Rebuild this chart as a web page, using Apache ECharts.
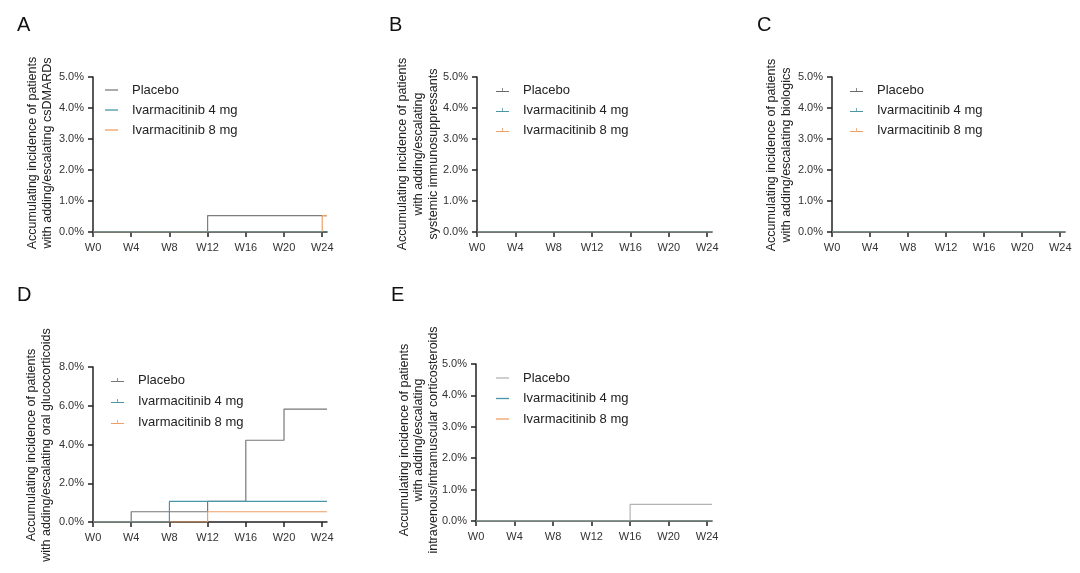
<!DOCTYPE html>
<html>
<head>
<meta charset="utf-8">
<script src="https://cdn.jsdelivr.net/npm/echarts@6/dist/echarts.min.js"></script>
<style>
html,body{margin:0;padding:0;background:#fff;}
#chart{width:1080px;height:573px;}
</style>
</head>
<body>
<div id="chart"></div>
<script>
// ---------- data ----------
const tickWeeks = [0, 4, 8, 12, 16, 20, 24];
const tickLabels = ['W0', 'W4', 'W8', 'W12', 'W16', 'W20', 'W24'];
const seriesNames = ['Placebo', 'Ivarmacitinib 4 mg', 'Ivarmacitinib 8 mg'];
const panelLetters = ['A', 'B', 'C', 'D', 'E'];
const panelTitles = [
  'Accumulating incidence of patients\nwith adding/escalating csDMARDs',
  'Accumulating incidence of patients\nwith adding/escalating\nsystemic immunosuppressants',
  'Accumulating incidence of patients\nwith adding/escalating biologics',
  'Accumulating incidence of patients\nwith adding/escalating oral glucocorticoids',
  'Accumulating incidence of patients\nwith adding/escalating\nintravenous/intramuscular corticosteroids'
];
const yMaxes = [5, 5, 5, 8, 5];
const yIntervals = [1, 1, 1, 2, 1];

// step data: weeks (x) and accumulated incidence in % (y)
const A_placebo_w = [0, 12, 24.5];  const A_placebo_v = [0, 0.53, 0.53];
const A_iva4_w    = [0, 24.5];      const A_iva4_v    = [0, 0];
const A_iva8_w    = [0, 24, 24.5];  const A_iva8_v    = [0, 0.53, 0.53];

const B_placebo_w = [0, 24.5];      const B_placebo_v = [0, 0];
const B_iva4_w    = [0, 24.5];      const B_iva4_v    = [0, 0];
const B_iva8_w    = [0, 24.5];      const B_iva8_v    = [0, 0];

const C_placebo_w = [0, 24.5];      const C_placebo_v = [0, 0];
const C_iva4_w    = [0, 24.5];      const C_iva4_v    = [0, 0];
const C_iva8_w    = [0, 24.5];      const C_iva8_v    = [0, 0];

const D_placebo_w = [0, 4, 12, 16, 20, 24.5]; const D_placebo_v = [0, 0.53, 1.07, 4.22, 5.83, 5.83];
const D_iva4_w    = [0, 8, 24.5];   const D_iva4_v    = [0, 1.06, 1.06];
const D_iva8_w    = [0, 12, 24.5];  const D_iva8_v    = [0, 0.53, 0.53];

const E_placebo_w = [0, 16, 24.5];  const E_placebo_v = [0, 0.53, 0.53];
const E_iva4_w    = [0, 24.5];      const E_iva4_v    = [0, 0];
const E_iva8_w    = [0, 24.5];      const E_iva8_v    = [0, 0];

const panelData = [
  [[A_placebo_w, A_placebo_v], [A_iva4_w, A_iva4_v], [A_iva8_w, A_iva8_v]],
  [[B_placebo_w, B_placebo_v], [B_iva4_w, B_iva4_v], [B_iva8_w, B_iva8_v]],
  [[C_placebo_w, C_placebo_v], [C_iva4_w, C_iva4_v], [C_iva8_w, C_iva8_v]],
  [[D_placebo_w, D_placebo_v], [D_iva4_w, D_iva4_v], [D_iva8_w, D_iva8_v]],
  [[E_placebo_w, E_placebo_v], [E_iva4_w, E_iva4_v], [E_iva8_w, E_iva8_v]]
];

// ---------- layout / style ----------
const FONT = 'Arial, "Liberation Sans", Helvetica, sans-serif';
const grids = [
  {left: 93,  top: 77,  width: 234, height: 155},
  {left: 477, top: 77,  width: 235, height: 155},
  {left: 832, top: 77,  width: 233, height: 155},
  {left: 93,  top: 367, width: 234, height: 155},
  {left: 476, top: 364, width: 236, height: 157}
];
const placeboColors = ['#7d7d7d', '#6a6a6a', '#6a6a6a', '#777777', '#b3b3b3'];
const iva4Color = '#4a95a8';
const iva8Color = '#eea064';
const letterPos = [[17, 25], [389, 25], [757, 25], [17, 295], [391, 295]];
const titlePos = [[40.5, 153, 15], [418.5, 154, 15.5], [779.5, 155, 15], [39.5, 445, 15], [419, 440, 14.5]];
const legendPos = [[105, 83, 6], [496, 83, 6], [850, 83, 6], [111, 373, 7], [496, 371, 6.5]];
const plainIcon = 'path://M0,0h20v1h-20z';
const tickIcon = 'path://M0,3h20v1h-20zM9.4,0h1.2v4h-1.2z';
const legendIcons = [plainIcon, tickIcon, tickIcon, tickIcon, plainIcon];
const legendIconH = [1.3, 4, 4, 4, 1.3];

const xAxes = [], yAxes = [], series = [], legends = [], graphics = [];
grids.forEach((g, i) => {
  xAxes.push({
    type: 'value', gridIndex: i, min: 0, max: 24.5,
    axisLine: {show: true, lineStyle: {color: '#222', width: 1.5}},
    axisTick: {show: true, length: 5, customValues: tickWeeks, lineStyle: {color: '#222', width: 1.5}},
    axisLabel: {customValues: tickWeeks, formatter: v => tickLabels[tickWeeks.indexOf(v)] || '',
                color: '#333', fontSize: 11, fontFamily: FONT, margin: 10},
    splitLine: {show: false}
  });
  yAxes.push({
    type: 'value', gridIndex: i, min: 0, max: yMaxes[i], interval: yIntervals[i],
    axisLine: {show: true, lineStyle: {color: '#222', width: 1.5}},
    axisTick: {show: true, length: 5, lineStyle: {color: '#222', width: 1.5}},
    axisLabel: {formatter: v => v.toFixed(1) + '%', color: '#333', fontSize: 11, fontFamily: FONT, margin: 9},
    splitLine: {show: false}
  });
  const colors = [placeboColors[i], iva4Color, iva8Color];
  // draw order: placebo, 8 mg, 4 mg (4 mg on top)
  [0, 2, 1].forEach(k => {
    const [w, v] = panelData[i][k];
    series.push({
      name: seriesNames[k], type: 'line', xAxisIndex: i, yAxisIndex: i,
      step: 'end', symbol: 'none', showSymbol: false, silent: true,
      color: colors[k],
      lineStyle: {color: colors[k], width: 1.2},
      data: w.map((x, j) => [x, v[j]]),
      animation: false
    });
  });
  legends.push({
    orient: 'vertical', left: legendPos[i][0], top: legendPos[i][1], padding: 0,
    itemGap: legendPos[i][2], itemWidth: 13, itemHeight: legendIconH[i],
    icon: legendIcons[i], symbolKeepAspect: false,
    itemStyle: {borderWidth: 0},
    selectedMode: false,
    data: seriesNames.map((n, k) => ({name: n, itemStyle: {color: colors[k], borderWidth: 0}})),
    textStyle: {fontSize: 13, fontFamily: FONT, color: '#222', lineHeight: 14, padding: [0, 0, 0, 9]}
  });
  graphics.push({
    type: 'text', x: letterPos[i][0], y: letterPos[i][1],
    style: {text: panelLetters[i], font: '20px ' + FONT, fill: '#111', align: 'left', verticalAlign: 'middle'}
  });
  graphics.push({
    type: 'text', x: titlePos[i][0], y: titlePos[i][1], rotation: Math.PI / 2,
    style: {text: panelTitles[i], font: '12.5px ' + FONT, fill: '#222', align: 'center',
            verticalAlign: 'middle', lineHeight: titlePos[i][2]}
  });
});

const chart = echarts.init(document.getElementById('chart'), null, {renderer: 'canvas'});
chart.setOption({
  backgroundColor: '#fff',
  animation: false,
  grid: grids.map(g => Object.assign({containLabel: false}, g)),
  xAxis: xAxes,
  yAxis: yAxes,
  legend: legends,
  series: series,
  graphic: graphics
});
</script>
</body>
</html>
